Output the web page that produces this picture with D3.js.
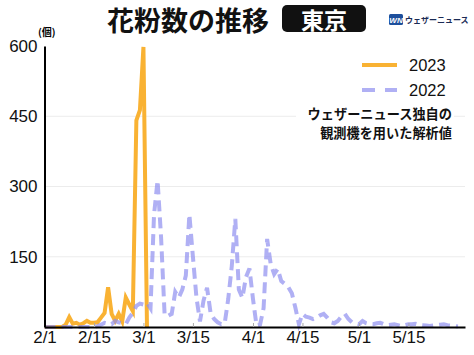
<!DOCTYPE html>
<meta charset='utf-8'>
<script src='https://d3js.org/d3.v7.min.js'></script>
<style>body{margin:0;background:#fff;} text{font-family:'Liberation Sans',Arial,sans-serif;}
.jp{font-family:'Noto Sans CJK JP',sans-serif;}</style>
<svg id='chart'></svg>
<script>
// daily pollen counts, index 0 = 2/1
var pollen2023=[0,0,0,0,0,0,5,21,7,9,5,8,13,9,9,10,20,30,85,28,13,28,12,63,48,34,441,463,598,0];
var pollen2022=[0,0,0,0,0,0,0,0,0,0,0,0,0,0,0,2,5,9,7,6,
  13,10,8,6,20,30,45,50,48,52,40,240,313,190,25,24,28,75,63,80,
  110,240,150,63,12,56,84,30,17,10,6,8,60,130,231,80,62,106,125,60,
  3,5,40,188,135,113,124,98,92,85,72,41,6,28,22,20,17,20,25,28,
  20,10,8,13,22,28,17,10,8,6,13,8,6,6,8,9,6,4,5,6,
  4,2,4,6,6,7,5,4,3,2,3,4,5,6,4,3,2,1];
var xTickDays=[0,14,28,42,59,73,89,103];
var xTickLabels=['2/1','2/15','3/1','3/15','4/1','4/15','5/1','5/15'];
var yTicks=[150,300,450,600];
var seriesNames=['2023','2022'];

var width=474,height=355;
var svg=d3.select('#chart').attr('width',width).attr('height',height);
var x=d3.scaleLinear().domain([0,119]).range([44.5,465]),
    y=d3.scaleLinear().domain([0,600]).range([327,46]);

// gridlines
svg.append('g').selectAll('line').data(yTicks.slice(0,3)).join('line')
   .attr('x1',x(0)).attr('x2',x(119)).attr('y1',d=>y(d)).attr('y2',d=>y(d))
   .attr('stroke','#ececec').attr('stroke-width',1);

// lines
var line=d3.line().x((d,i)=>x(i)).y(d=>y(d));
svg.append('path').datum(pollen2023).attr('d',line)
   .attr('fill','none').attr('stroke','#f9b233').attr('stroke-width',4);
svg.append('path').datum(pollen2022).attr('d',line)
   .attr('fill','none').attr('stroke','#8f8ff0').attr('stroke-opacity',0.7)
   .attr('stroke-width',4).attr('stroke-dasharray','11,6');

// axes
var gx=svg.append('g').attr('transform','translate(0,327)')
   .call(d3.axisBottom(x).tickValues(xTickDays).tickFormat((d,i)=>xTickLabels[i])
        .tickSizeInner(-4).tickSizeOuter(0).tickPadding(4));
gx.select('.domain').attr('stroke','#000').attr('stroke-width',2);
gx.selectAll('.tick line').attr('stroke','#aaa');
gx.selectAll('text').attr('font-size',17).attr('fill','#111');
var gy=svg.append('g').attr('transform','translate(44.5,0)')
   .call(d3.axisLeft(y).tickValues(yTicks).tickSize(0).tickPadding(7));
gy.select('.domain').attr('stroke','#000').attr('stroke-width',2);
gy.selectAll('text').attr('font-size',17).attr('fill','#111');
svg.append('text').attr('class','jp').attr('x',38).attr('y',36)
   .attr('font-size',10).attr('font-weight',700).text('(個)');

// title
svg.append('text').attr('class','jp').attr('x',188).attr('y',19)
   .attr('text-anchor','middle').attr('dominant-baseline','central')
   .attr('font-size',27).attr('font-weight',700).attr('fill','#111').text('花粉数の推移');
svg.append('rect').attr('x',282).attr('y',5).attr('width',84).attr('height',27)
   .attr('rx',5).attr('fill','#111');
svg.append('text').attr('class','jp').attr('x',324).attr('y',19)
   .attr('text-anchor','middle').attr('dominant-baseline','central')
   .attr('font-size',23).attr('font-weight',700).attr('fill','#fff').text('東京');
svg.append('rect').attr('x',389).attr('y',14).attr('width',14).attr('height',11)
   .attr('rx',1.5).attr('fill','#1d4f9c');
svg.append('text').attr('x',396).attr('y',23).attr('text-anchor','middle').attr('font-size',8)
   .attr('font-weight',700).attr('font-style','italic').attr('fill','#fff').text('WN');
svg.append('text').attr('class','jp').attr('x',405).attr('y',23)
   .attr('font-size',8).attr('font-weight',700).attr('fill','#1b2b55').text('ウェザーニュース');

// legend
var lg=svg.append('g');
lg.append('line').attr('x1',362).attr('x2',397).attr('y1',65).attr('y2',65)
  .attr('stroke','#f9b233').attr('stroke-width',4);
lg.append('line').attr('x1',362).attr('x2',397).attr('y1',90).attr('y2',90)
  .attr('stroke','#8f8ff0').attr('stroke-opacity',0.7).attr('stroke-width',4)
  .attr('stroke-dasharray','13,10');
lg.selectAll('text.name').data(seriesNames).join('text').attr('class','name')
  .attr('x',409).attr('y',(d,i)=>65+25*i).attr('dominant-baseline','central')
  .attr('font-size',16.5).attr('fill','#111').text(d=>d);
lg.append('rect').attr('x',296).attr('y',104).attr('width',158).attr('height',38).attr('fill','#fff');
lg.selectAll('text.note').data(['ウェザーニュース独自の','観測機を用いた解析値']).join('text')
  .attr('class','note jp').attr('x',452).attr('y',(d,i)=>113+19*i)
  .attr('text-anchor','end').attr('dominant-baseline','central')
  .attr('font-size',13.2).attr('font-weight',700).attr('fill','#111').text(d=>d);
</script>
